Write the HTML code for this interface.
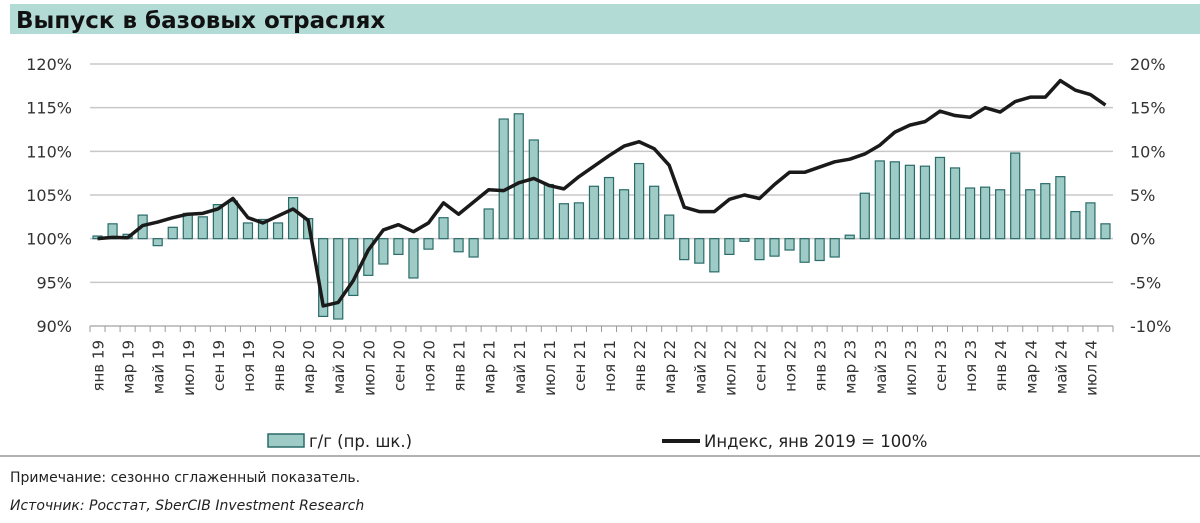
<!DOCTYPE html>
<html><head><meta charset="utf-8"><style>
body{margin:0;width:1200px;height:519px;background:#fff;overflow:hidden;font-family:"DejaVu Sans","Liberation Sans",sans-serif}
</style></head><body>
<svg width="1200" height="519" viewBox="0 0 1200 519" id="svg">
<rect x="10" y="4" width="1190" height="30" fill="#b3dbd6"/>
<text x="16" y="28" font-size="23" font-weight="bold" fill="#111" font-family="DejaVu Sans, sans-serif">Выпуск в базовых отраслях</text>
<g id="grid"></g><g id="bars"></g><g id="line"></g><g id="axes"></g>
<g>
<rect x="268" y="434" width="36" height="13" fill="#9ecbc5" stroke="#2a6b6a" stroke-width="1.5"/>
<text x="309" y="447" font-size="16.5" fill="#222">г/г (пр. шк.)</text>
<line x1="662" y1="441" x2="700" y2="441" stroke="#1a1a1a" stroke-width="4"/>
<text x="704" y="447" font-size="16.5" fill="#222">Индекс, янв 2019 = 100%</text>
</g>
<line x1="0" y1="456" x2="1200" y2="456" stroke="#999" stroke-width="1.5"/>
<text x="10" y="482" font-size="14" fill="#222">Примечание: сезонно сглаженный показатель.</text>
<text x="10" y="510" font-size="14" font-style="italic" fill="#222">Источник: Росстат, SberCIB Investment Research</text>
</svg>
<script>
const monthNames=["янв","фев","мар","апр","май","июн","июл","авг","сен","окт","ноя","дек"];
const yoy=[0.3,1.7,0.5,2.7,-0.8,1.3,2.9,2.5,3.9,4.3,1.8,2.2,1.8,4.7,2.3,-8.9,-9.2,-6.5,-4.2,-2.9,-1.8,-4.5,-1.2,2.4,-1.5,-2.1,3.4,13.7,14.3,11.3,6.2,4.0,4.1,6.0,7.0,5.6,8.6,6.0,2.7,-2.4,-2.8,-3.8,-1.8,-0.3,-2.4,-2.0,-1.3,-2.7,-2.5,-2.1,0.4,5.2,8.9,8.8,8.4,8.3,9.3,8.1,5.8,5.9,5.6,9.8,5.6,6.3,7.1,3.1,4.1,1.7];
const idx=[100,100.15,100.1,101.5,101.9,102.4,102.8,102.9,103.4,104.6,102.4,101.8,102.6,103.4,102.1,92.3,92.7,95.2,98.7,101.0,101.6,100.8,101.8,104.1,102.8,104.2,105.6,105.5,106.4,106.9,106.1,105.7,107.1,108.3,109.5,110.6,111.1,110.3,108.4,103.6,103.1,103.1,104.5,105.0,104.6,106.2,107.6,107.6,108.2,108.8,109.1,109.7,110.7,112.2,113.0,113.4,114.6,114.1,113.9,115.0,114.5,115.7,116.2,116.2,118.1,117.0,116.5,115.3];
const leftTicks=["90%","95%","100%","105%","110%","115%","120%"];
const rightTicks=["-10%","-5%","0%","5%","10%","15%","20%"];
const NS="http://www.w3.org/2000/svg";
const X0=90,X1=1113,YT=64,YB=326,N=yoy.length,slot=(X1-X0)/N;
const xc=i=>X0+slot*(i+0.5);
const yL=v=>YB-(v-90)/30*(YB-YT);
const yR=v=>YB-(v+10)/30*(YB-YT);
function mk(t,a,p){const e=document.createElementNS(NS,t);for(const k in a)e.setAttribute(k,a[k]);p.appendChild(e);return e;}
const grid=document.getElementById('grid'),bars=document.getElementById('bars'),line=document.getElementById('line'),axes=document.getElementById('axes');
for(let k=0;k<7;k++){const v=90+k*5,y=yL(v);
 const g=mk('line',{x1:X0,x2:X1,y1:y,y2:y,stroke:'#c8c8c8','stroke-width':1.5},grid);
 
 
 const t=mk('text',{x:72,y:y+6,'text-anchor':'end','font-size':16,fill:'#333'},axes);t.textContent=leftTicks[k];
 
 
 const r=mk('text',{x:1130,y:y+6,'font-size':16,fill:'#333'},axes);r.textContent=rightTicks[k];
 
 
}
const bw=slot*0.6;
yoy.forEach((v,i)=>{const y0=yR(0),y1=yR(v);
 const b=mk('rect',{x:xc(i)-bw/2,y:Math.min(y0,y1),width:bw,height:Math.max(Math.abs(y1-y0),1),fill:'#9ecbc5',stroke:'#2a6b6a','stroke-width':1.2},bars);
 
 
});
const pl=mk('polyline',{points:idx.map((v,i)=>xc(i)+','+yL(v)).join(' '),fill:'none',stroke:'#1a1a1a','stroke-width':3.5,'stroke-linejoin':'round'},line);


mk('line',{x1:X0,x2:X1,y1:YB,y2:YB,stroke:'#bbb','stroke-width':1.5},axes);
for(let i=0;i<=N;i++){const x=X0+slot*i;mk('line',{x1:x,x2:x,y1:YB,y2:YB+6,stroke:'#999','stroke-width':1},axes);}
for(let i=0;i<N;i+=2){const x=xc(i)+6,y=340;
 const t=mk('text',{x:x,y:y,'text-anchor':'end','font-size':15,fill:'#333',transform:`rotate(-90 ${x} ${y})`},axes);
 t.textContent=monthNames[i%12]+' '+(19+Math.floor(i/12));
 
 
}
</script>
</body></html>
